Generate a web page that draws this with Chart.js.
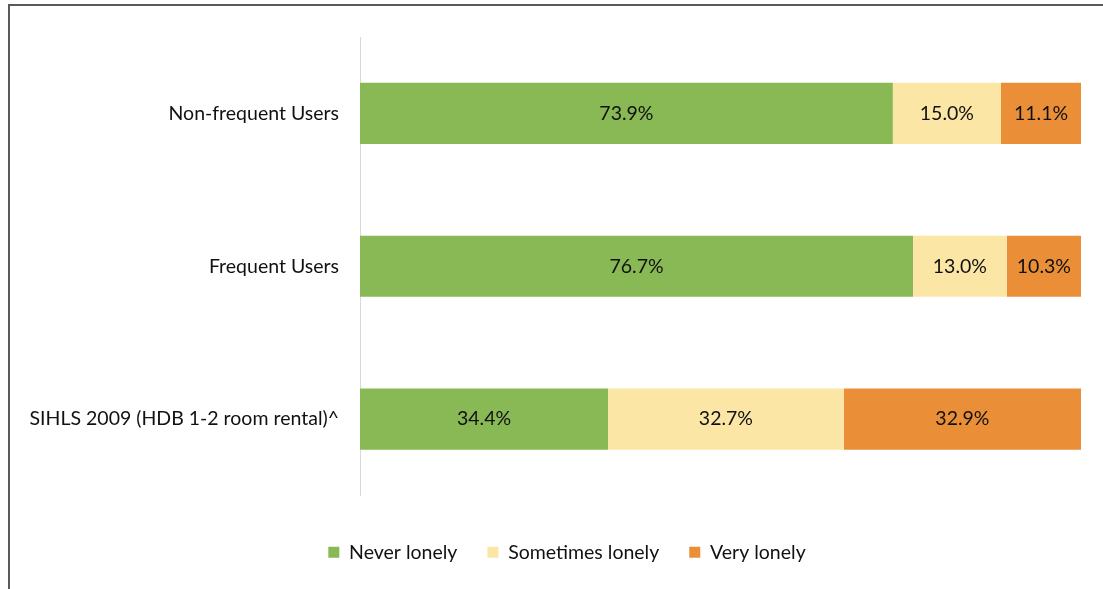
<!DOCTYPE html>
<html>
<head>
<meta charset="utf-8">
<script src="https://cdn.jsdelivr.net/npm/chart.js@4.4.1/dist/chart.umd.min.js"></script>
<style>
  html, body { margin: 0; padding: 0; background: #fff; }
  #wrap { position: relative; width: 1103px; height: 589px; }
  #frame {
    position: absolute; left: 8px; top: 4px; right: 0; bottom: 0;
    border-top: 2px solid #595959; border-left: 2px solid #595959;
    pointer-events: none;
  }
  canvas { position: absolute; left: 0; top: 0; }
</style>
</head>
<body>
<div id="wrap">
  <canvas id="lonelyChart" width="1103" height="589"></canvas>
  <div id="frame"></div>
</div>
<script>
const categories = ['Non-frequent Users', 'Frequent Users', 'SIHLS 2009 (HDB 1-2 room rental)^'];
const neverLonely = [73.9, 76.7, 34.4];
const sometimesLonely = [15.0, 13.0, 32.7];
const veryLonely = [11.1, 10.3, 32.9];

const fontFamily = 'Lato, "Open Sans", sans-serif';
const fontSize = 19.5;

// writes the value in the middle of each bar segment
const segmentLabels = {
  id: 'segmentLabels',
  afterDatasetsDraw(chart) {
    const ctx = chart.ctx;
    ctx.save();
    ctx.font = fontSize + 'px ' + fontFamily;
    ctx.fillStyle = '#111';
    ctx.textAlign = 'center';
    ctx.textBaseline = 'middle';
    chart.data.datasets.forEach((ds, i) => {
      const meta = chart.getDatasetMeta(i);
      meta.data.forEach((bar, j) => {
        const x = (bar.x + bar.base) / 2;
        ctx.fillText(ds.data[j].toFixed(1) + '%', x, bar.y);
      });
    });
    ctx.restore();
  },
};

// the legend sits a bit right of centre, under the bars
const legendShift = {
  id: 'legendShift',
  afterLayout(chart) {
    if (chart.legend) chart.legend.left += 44;
  },
};

new Chart(document.getElementById('lonelyChart'), {
  type: 'bar',
  data: {
    labels: categories,
    datasets: [
      { label: 'Never lonely', data: neverLonely, backgroundColor: 'rgb(136,185,84)' },
      { label: 'Sometimes lonely', data: sometimesLonely, backgroundColor: 'rgb(252,230,166)' },
      { label: 'Very lonely', data: veryLonely, backgroundColor: 'rgb(234,143,55)' },
    ],
  },
  options: {
    indexAxis: 'y',
    responsive: false,
    animation: false,
    categoryPercentage: 0.4,
    barPercentage: 1,
    layout: { padding: { left: 9, top: 37, right: 22, bottom: 17 } },
    scales: {
      x: {
        stacked: true, min: 0, max: 100,
        grid: { display: false, drawTicks: false },
        border: { display: false },
        ticks: { display: false },
        afterFit(scale) { scale.height = 17; },
      },
      y: {
        stacked: true,
        grid: { display: false, drawTicks: false },
        border: { display: true, color: '#d9d9d9', width: 1 },
        ticks: { color: '#111', padding: 21, font: { family: fontFamily, size: fontSize } },
        afterFit(scale) { scale.width = 351; },
      },
    },
    plugins: {
      legend: {
        position: 'bottom',
        labels: {
          boxWidth: 11,
          boxHeight: 11,
          padding: 30,
          color: '#111',
          font: { family: fontFamily, size: fontSize },
        },
      },
      tooltip: { enabled: false },
    },
  },
  plugins: [segmentLabels, legendShift],
});
</script>
</body>
</html>
